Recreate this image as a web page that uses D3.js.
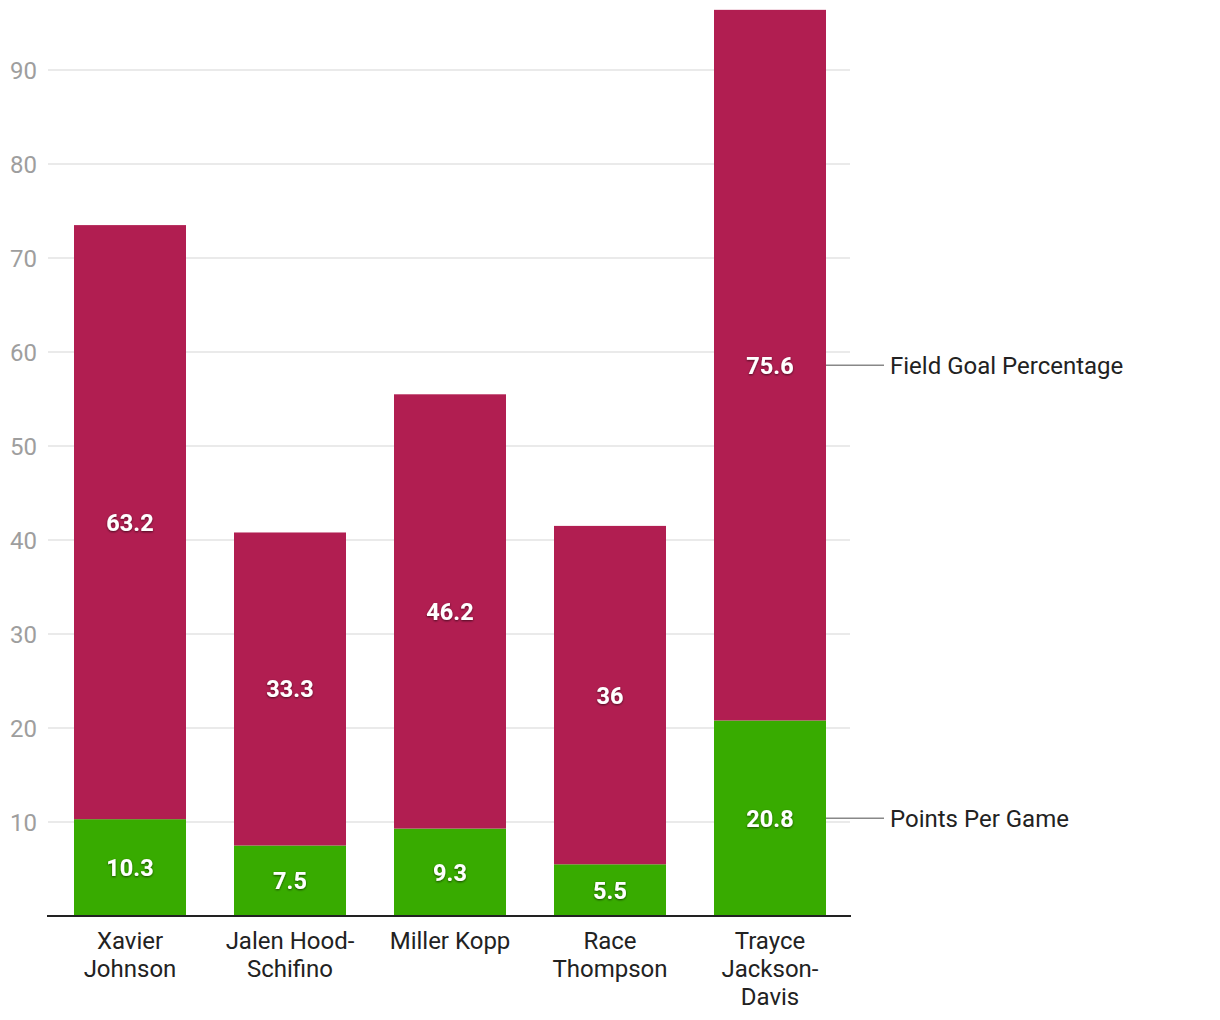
<!DOCTYPE html>
<html><head><meta charset="utf-8">
<script src="https://cdn.jsdelivr.net/npm/d3@7"></script>
<style>body{margin:0;background:#fff;font-family:Roboto,"Noto Sans",sans-serif;}</style>
</head><body><svg id="c" width="1220" height="1020"></svg>
<script>
const categories = ["Xavier Johnson","Jalen Hood-Schifino","Miller Kopp","Race Thompson","Trayce Jackson-Davis"];
const categoryLines = [["Xavier","Johnson"],["Jalen Hood-","Schifino"],["Miller Kopp"],["Race","Thompson"],["Trayce","Jackson-","Davis"]];
const pointsPerGame = [10.3,7.5,9.3,5.5,20.8];
const fieldGoalPct = [63.2,33.3,46.2,36,75.6];
const seriesNames = ["Points Per Game","Field Goal Percentage"];
const seriesColors = ["#38AB00","#B11E51"];
const yTicks = [10,20,30,40,50,60,70,80,90];

const svg = d3.select("#c");
const defs = svg.append("defs");
const f = defs.append("filter").attr("id","sh").attr("x","-20%").attr("y","-20%").attr("width","140%").attr("height","140%");
f.append("feDropShadow").attr("dx",0).attr("dy",1).attr("stdDeviation",1.2).attr("flood-color","#000").attr("flood-opacity",0.6);

const x = d3.scaleBand().domain(categories).range([50,850]).paddingInner(0.3).paddingOuter(0.15);
const y = d3.scaleLinear().domain([0,90]).range([916,70]);

// grid
svg.append("g").selectAll("line").data(yTicks).join("line")
  .attr("x1",48).attr("x2",850).attr("y1",d=>y(d)).attr("y2",d=>y(d))
  .attr("stroke","#e3e3e3").attr("stroke-width",1.5);
svg.append("g").selectAll("text").data(yTicks).join("text")
  .attr("x",37).attr("y",d=>y(d)).attr("dy","0.36em").attr("text-anchor","end")
  .attr("fill","#9e9e9e").attr("font-size",24).text(d=>d);

const stacked = categories.map((c,i)=>{
  const a = pointsPerGame[i], b = fieldGoalPct[i];
  return [{c,s:0,y0:0,y1:a,v:a},{c,s:1,y0:a,y1:a+b,v:b}];
}).flat();

svg.append("g").selectAll("rect").data(stacked).join("rect")
  .attr("x",d=>x(d.c)).attr("width",x.bandwidth())
  .attr("y",d=>y(d.y1)).attr("height",d=>y(d.y0)-y(d.y1))
  .attr("fill",d=>seriesColors[d.s]);

svg.append("g").selectAll("text").data(stacked).join("text")
  .attr("x",d=>x(d.c)+x.bandwidth()/2).attr("y",d=>y((d.y0+d.y1)/2)).attr("dy","0.36em")
  .attr("text-anchor","middle").attr("fill","#fff").attr("font-weight","bold").attr("font-size",23.5)
  .attr("filter","url(#sh)").text(d=>d.v);

// baseline
svg.append("line").attr("x1",47).attr("x2",851).attr("y1",y(0)).attr("y2",y(0)).attr("stroke","#222").attr("stroke-width",2);

// category labels
const cg = svg.append("g");
categories.forEach((c,i)=>{
  const t = cg.append("text").attr("text-anchor","middle").attr("fill","#222").attr("font-size",24);
  categoryLines[i].forEach((ln,j)=>{
    t.append("tspan").attr("x",x(c)+x.bandwidth()/2).attr("y",940+j*28).attr("dy","0.36em").text(ln);
  });
});

// legend labels at last bar
const last = categories.length-1;
const lastSegs = stacked.filter(d=>d.c===categories[last]);
const lg = svg.append("g");
lastSegs.forEach(d=>{
  const yy = y((d.y0+d.y1)/2);
  lg.append("line").attr("x1",x(d.c)+x.bandwidth()).attr("x2",884).attr("y1",yy).attr("y2",yy).attr("stroke","#888").attr("stroke-width",1.5);
  lg.append("text").attr("x",890).attr("y",yy).attr("dy","0.36em").attr("fill","#222").attr("font-size",24).text(seriesNames[d.s]);
});
</script></body></html>
